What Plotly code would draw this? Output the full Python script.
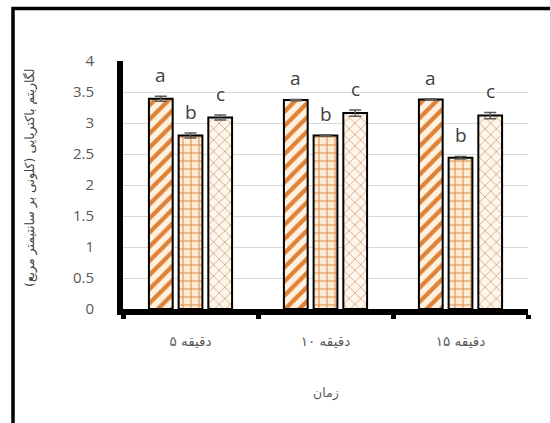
import plotly.graph_objects as go

categories = ["دقیقه ۵", "دقیقه ۱۰", "دقیقه ۱۵"]
series_names = ["s1", "s2", "s3"]
values_s1 = [3.39, 3.37, 3.38]
values_s2 = [2.80, 2.80, 2.44]
values_s3 = [3.09, 3.16, 3.12]
errors_s1 = [0.04, 0.01, 0.01]
errors_s2 = [0.04, 0.01, 0.02]
errors_s3 = [0.04, 0.05, 0.05]
letters_s1 = ["a", "a", "a"]
letters_s2 = ["b", "b", "b"]
letters_s3 = ["c", "c", "c"]
y_ticks = [0, 0.5, 1, 1.5, 2, 2.5, 3, 3.5, 4]
y_tick_labels = ["0", "0.5", "1", "1.5", "2", "2.5", "3", "3.5", "4"]
y_title = "لگاریتم باکتریایی (کلونی بر سانتیمتر مربع)"
x_title = "زمان"

values = [values_s1, values_s2, values_s3]
errors = [errors_s1, errors_s2, errors_s3]
letters = [letters_s1, letters_s2, letters_s3]

patterns = [
    dict(shape="/", fgcolor="#DE8238", bgcolor="#FFF1E0", size=10, solidity=0.42, fillmode="overlay", fgopacity=1),
    dict(shape="+", fgcolor="#DE8E4E", bgcolor="#FDEBD3", size=8, solidity=0.25, fillmode="overlay", fgopacity=1),
    dict(shape="x", fgcolor="#D0A886", bgcolor="#FFF5EA", size=8, solidity=0.2, fillmode="overlay", fgopacity=1),
]

fig = go.Figure()
for i in range(3):
    fig.add_trace(go.Bar(
        x=categories, y=values[i], name=series_names[i],
        marker=dict(color=patterns[i]["bgcolor"], pattern=patterns[i],
                    line=dict(color="black", width=2)),
        error_y=dict(type="data", array=errors[i], color="#595959", thickness=1.5, width=6),
        showlegend=False,
    ))

L, R, T, B = 123, 22, 61, 114
W, H = 550, 423
plot_w = W - L - R
plot_h = H - T - B
bargap = 0.34
slot = plot_w / 3 * (1 - bargap) / 3

annotations = []
for i in range(3):
    for j in range(3):
        annotations.append(dict(
            x=categories[j], y=values[i][j] + errors[i][j], xref="x", yref="y",
            text=letters[i][j], showarrow=False, xshift=(i - 1) * slot, yshift=21,
            yanchor="middle", font=dict(family="Open Sans", size=19, color="#404040"),
        ))

annotations.append(dict(
    x=(30 - L) / plot_w, y=(H - B - 178) / plot_h, xref="paper", yref="paper", text=y_title,
    textangle=-90, showarrow=False, xanchor="center", yanchor="middle",
    font=dict(family="DejaVu Sans", size=12.5, color="#404040"),
))
annotations.append(dict(
    x=0.5, y=(H - B - 393) / plot_h, xref="paper", yref="paper", text=x_title,
    showarrow=False, xanchor="center", yanchor="middle",
    font=dict(family="DejaVu Sans", size=12.5, color="#595959"),
))

fig.update_layout(
    width=W, height=H, margin=dict(l=L, r=R, t=T, b=B, pad=0),
    paper_bgcolor="white", plot_bgcolor="white",
    barmode="group", bargap=bargap, bargroupgap=0.2,
    annotations=annotations,
    shapes=[dict(type="rect", xref="paper", yref="paper",
                 x0=(13 - L) / plot_w, x1=1.3, y0=-0.8, y1=(H - B - 8.5) / plot_h,
                 line=dict(color="black", width=3.5), fillcolor="rgba(0,0,0,0)")],
)
fig.update_yaxes(
    range=[0, 4], tickvals=y_ticks, ticktext=y_tick_labels,
    showgrid=True, gridcolor="#D9D9D9", gridwidth=1, zeroline=False,
    showline=True, linecolor="black", linewidth=6, ticks="",
    ticklabelstandoff=20,
    tickfont=dict(family="Open Sans", size=15, color="#595959"),
)
fig.update_xaxes(
    showline=True, linecolor="black", linewidth=6,
    ticks="outside", tickson="boundaries", ticklen=4, tickwidth=5, tickcolor="black",
    ticklabelstandoff=15,
    tickfont=dict(family="DejaVu Sans", size=13.5, color="#595959"),
)

fig.write_html("out.html")
